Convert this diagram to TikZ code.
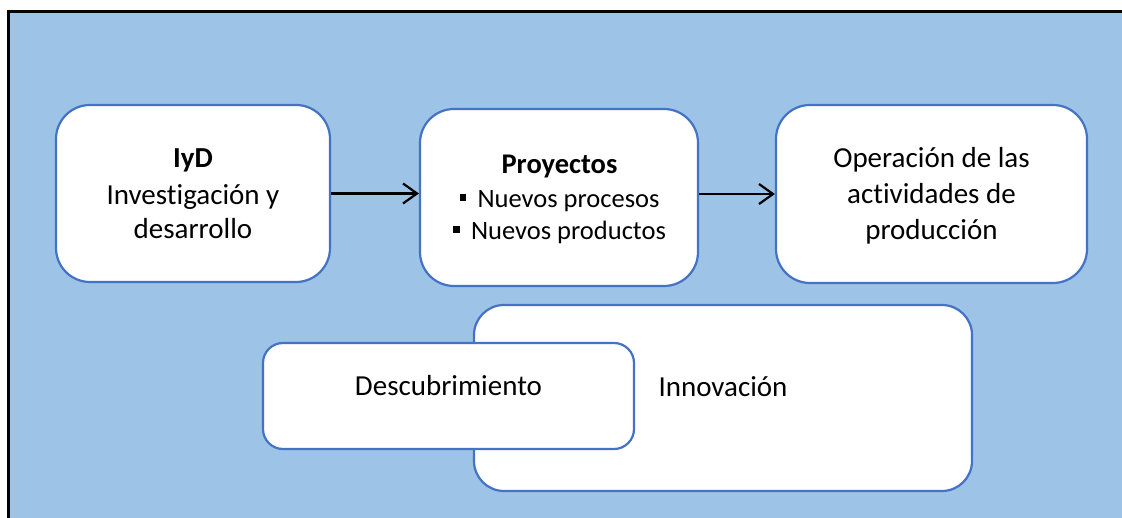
\documentclass[tikz,border=0pt]{standalone}
\usepackage{fontspec}
\setmainfont{Carlito}[Ligatures=NoCommon]
\usetikzlibrary{arrows.meta}
\definecolor{bgblue}{HTML}{9DC3E6}
\definecolor{boxblue}{HTML}{4472C4}
\tikzset{
  box/.style={draw=boxblue, fill=white, line width=2.2pt, inner sep=0pt},
  txt/.style={anchor=base, inner sep=0pt, font=\fontsize{29}{35}\selectfont},
  stxt/.style={anchor=base, inner sep=0pt, font=\fontsize{26.5}{32}\selectfont},
  btxt/.style={anchor=base, inner sep=0pt, font=\fontsize{28.5}{34}\selectfont\bfseries},
  arr/.style={line width=2.2pt, -{Straight Barb[length=14pt,width=20pt,line width=2.2pt]}},
}
\newcommand{\sqbullet}{\raisebox{0.26em}{\rule{0.26em}{0.26em}}\hspace{0.42em}}
\begin{document}
\begin{tikzpicture}[x=1pt,y=-1pt]
\useasboundingbox (0,0) rectangle (1122,518);
\begin{scope}
\clip (0,0) rectangle (1122,518);
\draw[fill=bgblue, line width=3pt] (8,12) rectangle (1140,540);
\end{scope}
% boxes
\node[box, rounded corners=34pt, minimum width=274pt, minimum height=177pt] (iyd) at (193,193.5) {};
\node[box, rounded corners=34pt, minimum width=278pt, minimum height=177pt] (proy) at (559,197.5) {};
\node[box, rounded corners=34pt, minimum width=311pt, minimum height=178pt] (ops) at (931.5,194) {};
\node[box, rounded corners=30pt, minimum width=498pt, minimum height=186pt] (inno) at (723,398) {};
\node[box, rounded corners=20pt, minimum width=371pt, minimum height=106pt] (desc) at (448.5,396) {};
% texts
\node[txt] (t1a) at (193,168) {\textbf{IyD}};
\node[txt] (t1b) at (193,205) {Investigación y};
\node[txt] (t1c) at (193,239) {desarrollo};
\node[btxt] (t2a) at (559.5,174) {Proyectos};
\node[stxt] (t2b) at (559.5,208) {\sqbullet Nuevos procesos};
\node[stxt] (t2c) at (559.5,240) {\sqbullet Nuevos productos};
\node[txt] (t3a) at (931.5,168) {Operación de las};
\node[txt] (t3b) at (931.5,204) {actividades de};
\node[txt] (t3c) at (931.5,240) {producción};
\node[txt] (t4) at (448.5,396) {Descubrimiento};
\node[txt] (t5) at (723,397) {Innovación};
% arrows
\draw[arr] (iyd.east) -- (iyd.east -| proy.west);
\draw[arr] (proy.east |- ops.west) -- (ops.west);
\end{tikzpicture}
\end{document}
